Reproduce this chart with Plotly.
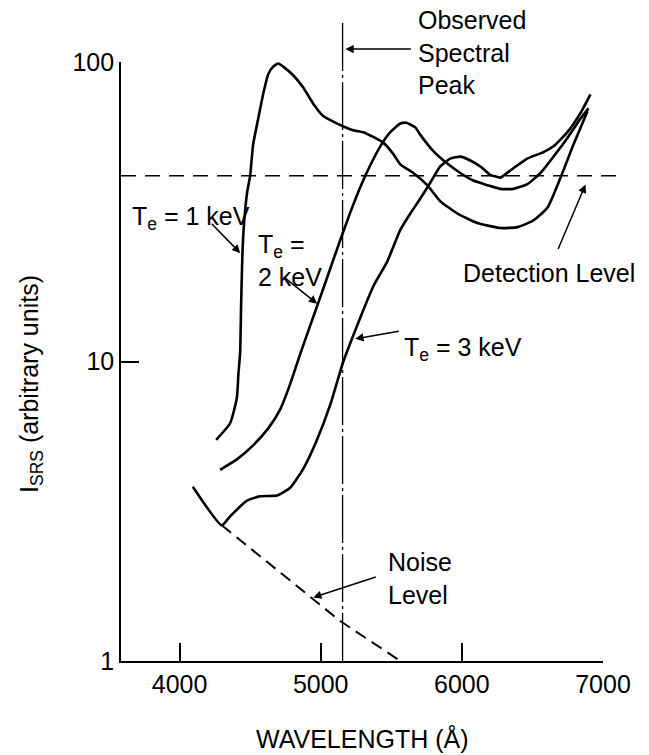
import math
import plotly.graph_objects as go

# ---------------- data ----------------
WL_1KEV = [4259, 4358, 4406, 4417, 4429, 4436, 4445, 4457, 4479, 4500, 4521, 4557, 4592, 4628,
           4663, 4699, 4734, 4805, 4876, 4947, 5018, 5117, 5230, 5301, 5372, 5443, 5514, 5564,
           5656, 5755, 5847, 5968, 6110, 6273, 6394, 6507, 6606, 6699, 6791, 6890]
I_1KEV = [5.47, 6.22, 7.57, 9.1, 10.7, 15.4, 22.6, 29.0, 36.8, 41.7, 53.0, 64.6, 78.0, 91.0,
          96.5, 98.8, 96.5, 90.3, 82.2, 72.6, 66.0, 62.3, 59.2, 58.3, 56.2, 53.8, 49.3, 45.5,
          42.6, 38.8, 34.3, 31.2, 29.0, 27.9, 28.1, 29.6, 32.6, 41.1, 53.0, 68.5]

WL_2KEV = [4287, 4408, 4521, 4628, 4713, 4784, 4855, 4926, 4997, 5067, 5138, 5209, 5280, 5351,
           5422, 5493, 5564, 5606, 5670, 5706, 5798, 5897, 5989, 6081, 6181, 6273, 6365, 6464,
           6557, 6649, 6748, 6840, 6897]
I_2KEV = [4.35, 4.72, 5.25, 5.98, 6.92, 8.42, 10.6, 13.2, 16.4, 20.4, 25.4, 31.4, 38.2, 45.2,
          52.3, 58.3, 62.3, 62.7, 60.5, 57.1, 50.4, 45.8, 42.6, 40.2, 38.8, 37.7, 37.7, 39.1,
          42.6, 48.3, 55.8, 64.6, 70.0]

WL_3KEV = [4094, 4299, 4358, 4477, 4571, 4689, 4784, 4876, 4973, 5067, 5160, 5209, 5280, 5372,
           5472, 5564, 5635, 5706, 5777, 5847, 5918, 5989, 6060, 6131, 6202, 6273, 6294, 6365,
           6464, 6578, 6649, 6748, 6840, 6911]
I_3KEV = [3.82, 2.84, 3.04, 3.43, 3.55, 3.57, 3.79, 4.38, 5.47, 7.16, 10.0, 11.5, 14.0, 17.8,
          21.6, 27.5, 31.2, 35.0, 39.6, 44.8, 47.6, 48.3, 46.9, 44.8, 42.0, 41.1, 41.7, 44.2,
          47.6, 50.0, 52.3, 58.3, 67.5, 78.0]

WL_NOISE = [4299, 4926, 5138, 5564]
I_NOISE = [2.84, 1.64, 1.36, 1.0]

DETECTION_LEVEL = 41.7
OBSERVED_PEAK_WL = 5155

X_TICKS = [4000, 5000, 6000, 7000]
X_TICK_TEXT = ["4000", "5000", "6000", "7000"]
Y_TICKS = [1, 10, 100]
Y_TICK_TEXT = ["1", "10", "100"]

# ---------------- layout helpers ----------------
W, H = 649, 755
ML, MR, MT, MB = 121, 46, 62, 94
PW, PH = W - ML - MR, H - MT - MB
FONT = "Liberation Sans, Arial, Helvetica, sans-serif"
FS = 25


def pxx(px):
    return (px - ML) / PW


def pxy(py):
    return (H - MB - py) / PH


fig = go.Figure()

for wl, inten in [(WL_1KEV, I_1KEV), (WL_2KEV, I_2KEV), (WL_3KEV, I_3KEV)]:
    fig.add_trace(go.Scatter(x=wl, y=inten, mode="lines",
                             line=dict(color="black", width=2.6, shape="spline", smoothing=0.5),
                             showlegend=False, hoverinfo="skip"))

fig.add_trace(go.Scatter(x=WL_NOISE, y=I_NOISE, mode="lines",
                         line=dict(color="black", width=2.0, dash="12px,7px"),
                         showlegend=False, hoverinfo="skip"))

# detection level (dashed, extends a little past the axis end)
fig.add_shape(type="line", xref="paper", yref="y", x0=0, x1=pxx(618),
              y0=DETECTION_LEVEL, y1=DETECTION_LEVEL,
              line=dict(color="black", width=1.6, dash="15px,9px"))

# observed spectral peak (dash-dot vertical)
fig.add_shape(type="line", xref="x", yref="paper", x0=OBSERVED_PEAK_WL, x1=OBSERVED_PEAK_WL,
              y0=0, y1=pxy(23),
              line=dict(color="black", width=1.3, dash="48px,4px,3px,4px"))

annotations = []


def label(text, px, py, xanchor="left", yanchor="middle", **kw):
    annotations.append(dict(text=text, xref="paper", yref="paper", x=pxx(px), y=pxy(py),
                            xanchor=xanchor, yanchor=yanchor, align="left", showarrow=False,
                            font=dict(family=FONT, size=FS, color="black"), **kw))


def arrow(x, y, ax, ay, xref="x", yref="y"):
    annotations.append(dict(text="", x=x, y=y, xref=xref, yref=yref, ax=ax, ay=ay,
                            axref="pixel", ayref="pixel", showarrow=True, arrowhead=2,
                            arrowsize=1.1, arrowwidth=1.5, arrowcolor="black", standoff=0))


label("Observed<br>Spectral<br>Peak", 416, 52)
arrow(OBSERVED_PEAK_WL + 20, pxy(49), 67, 0, yref="paper")

label("T<sub>e</sub> = 1 keV", 130, 218)
arrow(4430, math.log10(23.0), -30, -31)

label("T<sub>e</sub> =<br>2 keV", 256, 260)
arrow(4975, math.log10(15.6), -35, -28)

label("T<sub>e</sub> = 3 keV", 402, 349)
arrow(5245, math.log10(11.9), 45, -8)

label("Detection Level", 461, 273)
arrow(6876, math.log10(39.0), -28, 66)

label("Noise<br>Level", 386, 578)
arrow(4947, math.log10(1.63), 64, -21)

# axis titles
label("WAVELENGTH (Å)", 362, 738, xanchor="center")
annotations.append(dict(text="I<sub>SRS</sub> (arbitrary units)", xref="paper", yref="paper",
                        x=pxx(31), y=pxy(384), xanchor="center", yanchor="middle",
                        textangle=-90, showarrow=False,
                        font=dict(family=FONT, size=FS, color="black")))

fig.update_layout(
    width=W, height=H,
    margin=dict(l=ML, r=MR, t=MT, b=MB, pad=0),
    paper_bgcolor="white", plot_bgcolor="white",
    showlegend=False,
    annotations=annotations,
    font=dict(family=FONT, size=FS, color="black"),
)

fig.update_xaxes(range=[3585, 7000], tickmode="array", tickvals=X_TICKS, ticktext=X_TICK_TEXT,
                 ticks="inside", ticklen=18, tickwidth=1.5, tickcolor="black",
                 showline=True, linecolor="black", linewidth=1.6,
                 showgrid=False, zeroline=False,
                 tickfont=dict(family=FONT, size=FS, color="black"))
fig.update_yaxes(type="log", range=[0, 2], tickmode="array", tickvals=Y_TICKS, ticktext=Y_TICK_TEXT,
                 ticks="inside", ticklen=18, tickwidth=1.5, tickcolor="black",
                 showline=True, linecolor="black", linewidth=1.6,
                 showgrid=False, zeroline=False,
                 tickfont=dict(family=FONT, size=FS, color="black"))

fig.write_html("out.html")
